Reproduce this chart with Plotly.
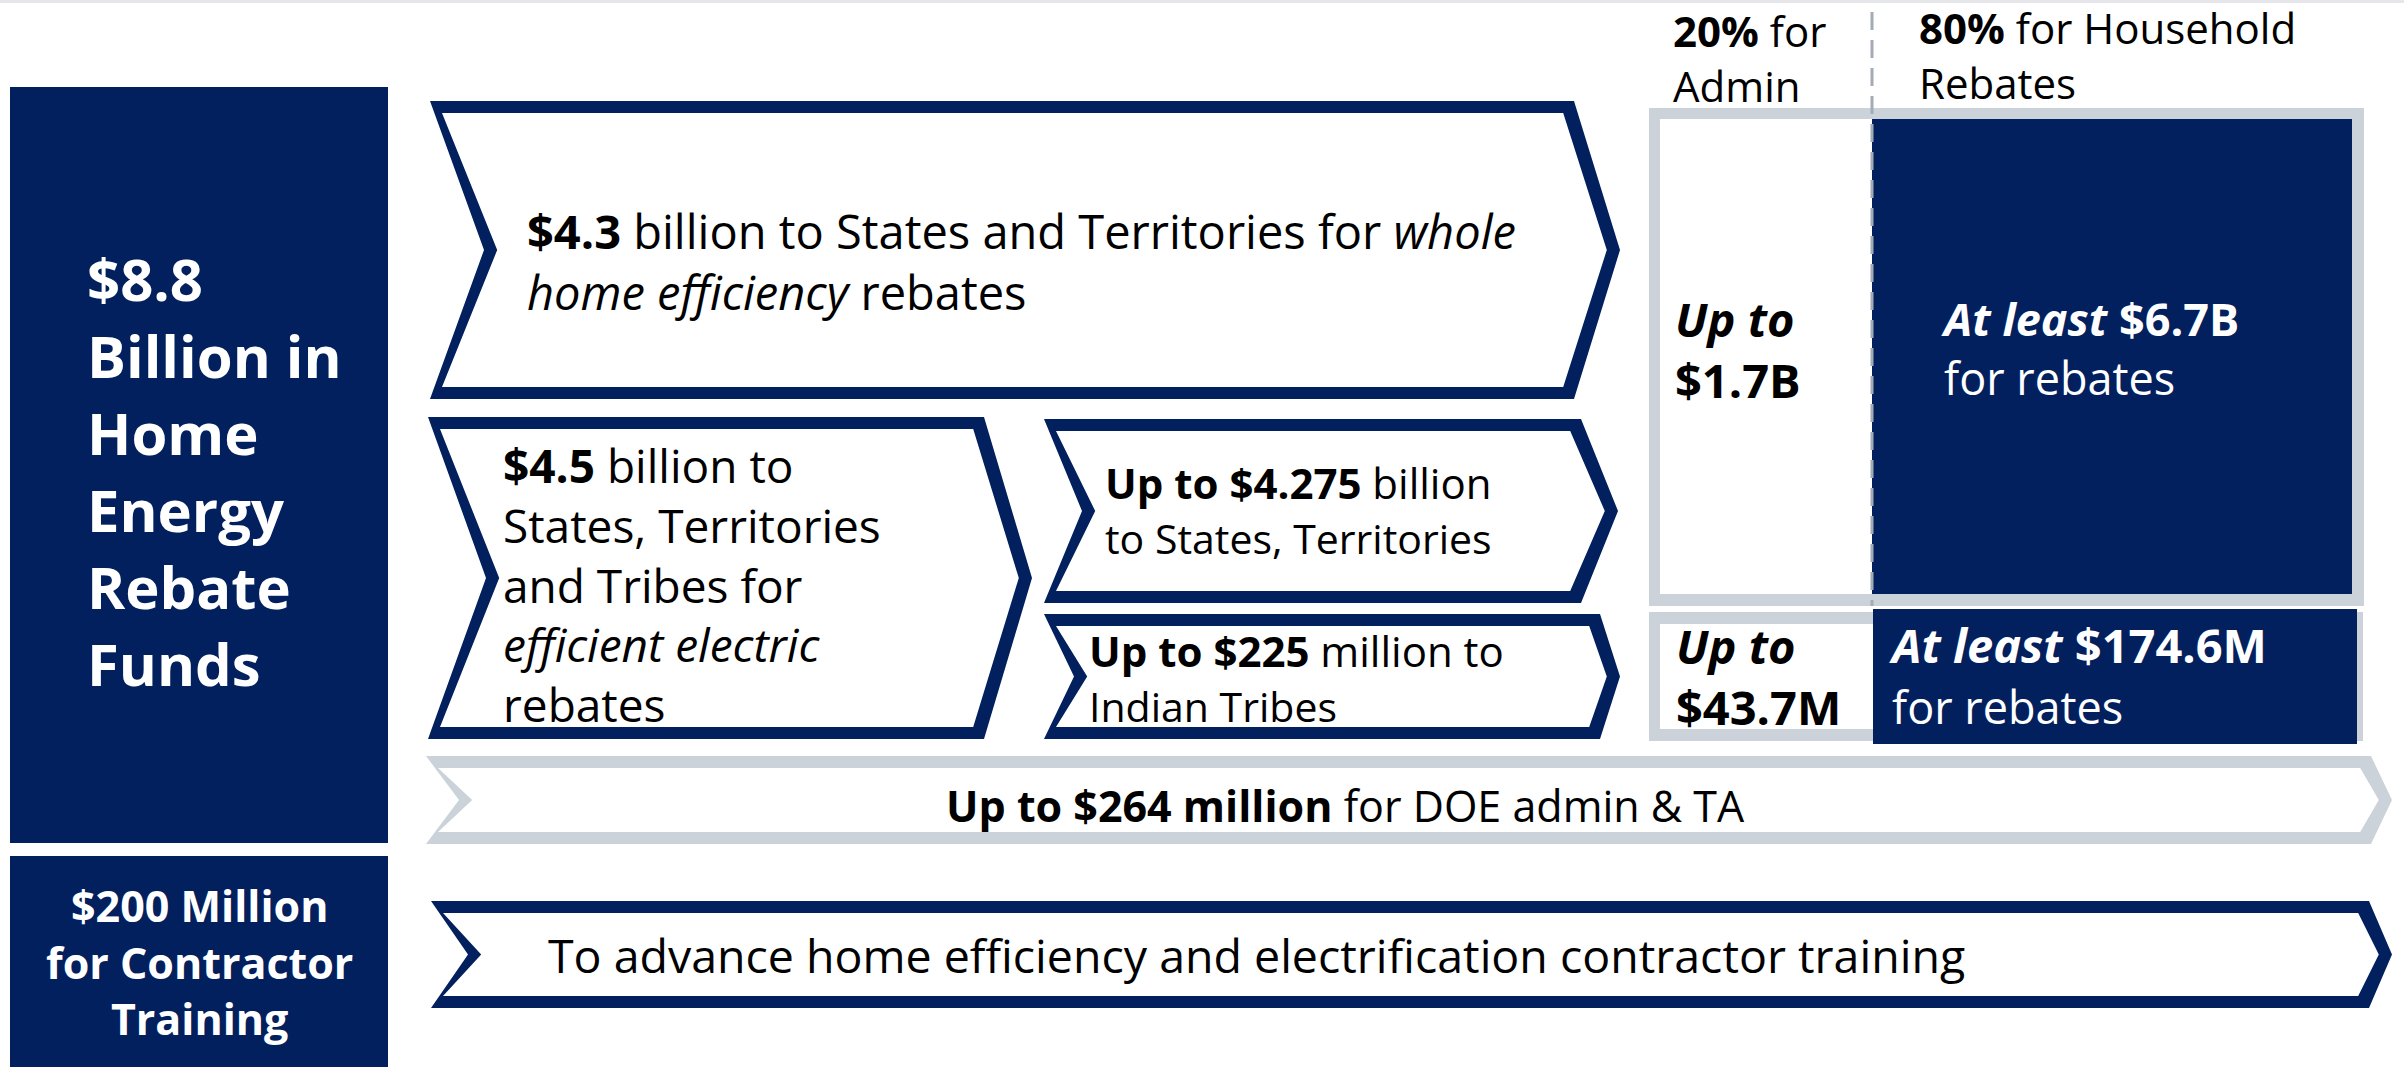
import plotly.graph_objects as go

# ---- content ----
total_title = ["$8.8", "Billion in", "Home", "Energy", "Rebate", "Funds"]
training_title = ["$200 Million", "for Contractor", "Training"]
whole_home = ["<b>$4.3</b> billion to States and Territories for <i>whole</i>",
              "<i>home efficiency</i> rebates"]
electric = ["<b>$4.5</b> billion to", "States, Territories", "and Tribes for",
            "<i>efficient electric</i>", "rebates"]
states_split = ["<b>Up to $4.275</b> billion", "to States, Territories"]
tribes_split = ["<b>Up to $225</b> million to", "Indian Tribes"]
admin_hdr = ["<b>20%</b> for", "Admin"]
rebate_hdr = ["<b>80%</b> for Household", "Rebates"]
admin_big = ["<b><i>Up to</i></b>", "<b>$1.7B</b>"]
rebate_big = ["<b><i>At least</i> $6.7B</b>", "for rebates"]
admin_small = ["<b><i>Up to</i></b>", "<b>$43.7M</b>"]
rebate_small = ["<b><i>At least</i> $174.6M</b>", "for rebates"]
doe_text = "<b>Up to $264 million</b> for DOE admin &amp; TA"
training_text = "To advance home efficiency and electrification contractor training"

NAVY = "#02205E"
GREY = "#CBD2D9"
DASH = "#A3ABB7"
FONT = "Open Sans"

W, H = 2404, 1067
fig = go.Figure()
shapes = []
annos = []


def rect(x0, y0, x1, y1, color):
    shapes.append(dict(type="rect", x0=x0, y0=y0, x1=x1, y1=y1,
                       fillcolor=color, line=dict(width=0), layer="below"))


def poly(pts, color):
    path = "M " + " L ".join(f"{x},{y}" for x, y in pts) + " Z"
    shapes.append(dict(type="path", path=path, fillcolor=color,
                       line=dict(width=0), layer="below"))


def chevron(x0, x1, y0, y1, dl, dr, color, t=12):
    ym = (y0 + y1) / 2
    outer = [(x0, y0), (x1, y0), (x1 + dr, ym), (x1, y1), (x0, y1), (x0 + dl, ym)]
    inner = [(x0 + t, y0 + t), (x1 - t * 0.9, y0 + t), (x1 + dr - t * 1.1, ym),
             (x1 - t * 0.9, y1 - t), (x0 + t, y1 - t), (x0 + dl + t * 1.1, ym)]
    poly(outer, color)
    poly(inner, "white")


def block(x, y_mid, texts, sizes, color="black", anchor="left", bold=False, pitch=None):
    """One annotation per text block, centred on y_mid."""
    if not isinstance(sizes, (list, tuple)):
        sizes = [sizes] * len(texts)
    if pitch is None:
        pitch = 1.3 * max(sizes)
    parts = []
    for t, s in zip(texts, sizes):
        if bold:
            t = "<b>" + t + "</b>"
        parts.append(f"<span style='font-size:{s}px'>{t}</span>")
    annos.append(dict(x=x, y=y_mid, xref="x", yref="y", text="<br>".join(parts),
                      showarrow=False, xanchor=anchor, yanchor="middle",
                      align=anchor if anchor != "center" else "center",
                      font=dict(family=FONT, size=pitch / 1.3, color=color)))


# top hairline
rect(0, 0, W, 3, "#E4E6E9")

# left boxes
rect(10, 87, 388, 843, NAVY)
rect(10, 856, 388, 1080, NAVY)

# arrows
chevron(430, 1574, 101, 399, 54, 46, NAVY)
chevron(428, 984, 417, 739, 58, 48, NAVY)
chevron(1044, 1581, 419, 603, 38, 37, NAVY)
chevron(1044, 1600, 614, 739, 30, 20, NAVY)
chevron(426, 2371, 756, 844, 33, 21, GREY)
chevron(431, 2369, 901, 1008, 37, 23, NAVY)

# grey boxes (admin / rebate split)
rect(1649, 108, 2364, 606, GREY)
rect(1660, 119, 2352, 594, "white")
rect(1872, 119, 2352, 594, NAVY)
rect(1649, 612, 2363, 741, GREY)
rect(1660, 624, 2352, 729, "white")
rect(1873, 609, 2357, 744, NAVY)

# dashed divider
shapes.append(dict(type="line", x0=1872, x1=1872, y0=12, y1=606,
                   line=dict(color=DASH, width=3, dash="18px,10px"), layer="above"))

# texts
block(85, 470.5, total_title, 58, "white", bold=True, pitch=77)
block(199, 961.5, training_title, 43, "white", anchor="center", bold=True, pitch=56.5)
block(525, 261.5, whole_home, 47)
block(501, 584, electric, 46)
block(1103, 510, states_split, [42, 41])
block(1087, 678, tribes_split, [42, 41])
block(1671, 57.5, admin_hdr, 42)
block(1917, 55, rebate_hdr, 42)
block(1673, 349.5, admin_big, 47)
block(1939, 348, rebate_big, 45, "white")
block(1674, 676.5, admin_small, 47)
block(1887, 674.5, rebate_small, [47, 45], "white")
block(1345, 805, [doe_text], 43, anchor="center")
block(546, 955, [training_text], 46.5)

fig.add_trace(go.Scatter(x=[0, W], y=[0, H], mode="markers",
                         marker=dict(opacity=0), hoverinfo="skip", showlegend=False))

fig.update_layout(
    width=W, height=H, margin=dict(l=0, r=0, t=0, b=0),
    paper_bgcolor="white", plot_bgcolor="white",
    shapes=shapes, annotations=annos, showlegend=False,
    xaxis=dict(range=[0, W], visible=False, fixedrange=True),
    yaxis=dict(range=[H, 0], visible=False, fixedrange=True),
)

fig.write_html("out.html", config={"displayModeBar": False},
               post_script="document.body.style.margin='0';document.body.style.overflow='hidden';")
